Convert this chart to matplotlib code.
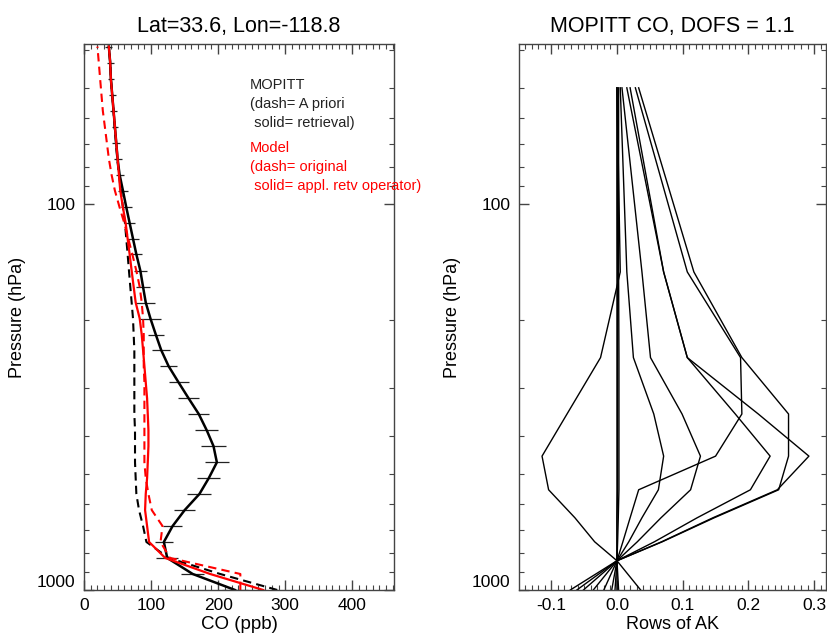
import matplotlib
matplotlib.use('Agg')
import matplotlib.pyplot as plt
from matplotlib.ticker import FixedLocator, MultipleLocator, NullFormatter

plt.rcParams['font.family'] = ['Liberation Sans', 'DejaVu Sans']

# ── Left panel: CO profiles on model levels (hPa) ─────────────────────────────
pressure = [1000, 909, 826, 751, 683, 621, 564, 513, 467, 424,
            386, 350, 319, 290, 263, 239, 218, 198, 180, 164,
            149, 135, 123, 112, 102, 92.3, 83.9, 76.3, 69.3, 63.0,
            57.3, 52.1, 47.4, 43.0, 39.1]

mopitt_retrieval = [225, 162, 124, 119, 132, 150, 172, 186, 198, 193,
                    183, 171, 156, 141, 126, 115, 107, 99, 92, 88,
                    84, 78, 73, 68, 63, 58, 53, 50, 48, 46,
                    44, 42, 40, 39, 37]
mopitt_error = [20, 17, 16, 13, 14, 16, 18, 17, 18, 19,
                17, 16, 16, 15, 13, 13, 12, 15, 14, 11,
                10, 9, 9, 8, 8, 7, 6, 6, 6, 5,
                5, 5, 5, 5, 5]
mopitt_apriori = [288, 203, 126, 93, 88, 82, 78, 77, 76, 76,
                  76, 75, 75, 75, 75, 75, 74, 73, 71, 69,
                  67, 65, 63, 61, 58, 55, 52, 49.5, 47.5, 45.5,
                  44, 42, 40, 39, 37]
model_original = [233, 233, 128, 114, 117, 101, 96, 92, 90, 90,
                  90, 90, 90, 90, 89, 89, 89, 88, 86, 83,
                  78, 72, 66, 60, 53, 46, 41, 37, 34, 31,
                  28, 26, 24, 22, 20]
model_ak = [267, 188, 121, 97, 94, 91, 92, 94, 95, 96,
            96, 95, 94, 92, 90, 88, 86, 83, 77, 74,
            71, 68, 65, 62, 58, 54, 52, 50, 48, 46,
            44, 42, 40, 39, 37]

# ── Right panel: rows of the averaging kernel ─────────────────────────────────
ak_pressure = [1000, 840, 750, 650, 550, 450, 350, 250, 150, 50]
ak_rows = [
    [0.036, 0.0, -0.034, -0.064, -0.104, -0.114, -0.076, -0.025, 0.005, 0.0],
    [0.0025, 0.0, 0.0, 0.0, 0.0, 0.0, 0.0, 0.0, 0.0, 0.0],
    [0.0, 0.0, 0.001, 0.002, 0.003, 0.003, 0.003, 0.003, 0.0025, 0.0025],
    [-0.003, 0.0, 0.0, 0.0, 0.001, 0.001, 0.001, 0.001, 0.001, 0.0],
    [-0.008, 0.0, 0.018, 0.038, 0.063, 0.071, 0.056, 0.025, 0.015, 0.005],
    [-0.036, 0.0, 0.031, 0.067, 0.112, 0.127, 0.099, 0.051, 0.038, 0.0076],
    [-0.02, 0.0, 0.009, 0.02, 0.033, 0.15, 0.19, 0.188, 0.107, 0.028],
    [-0.051, 0.0, 0.057, 0.122, 0.203, 0.233, 0.18, 0.107, 0.071, 0.015],
    [-0.071, 0.0, 0.069, 0.148, 0.246, 0.261, 0.261, 0.19, 0.117, 0.033],
    [-0.061, 0.0, 0.068, 0.146, 0.244, 0.292, 0.215, 0.107, 0.071, 0.02],
]

legend_black = ['MOPITT', '(dash= A priori', ' solid= retrieval)']
legend_red = ['Model', '(dash= original', ' solid= appl. retv operator)']

P_TOP, P_BOT = 38.5, 1000
DASH = (0, (4, 2.5))
FRAME = '#444444'


def style_axis(ax, xmajor, xminor):
    ax.set_yscale('log')
    ax.set_ylim(P_BOT, P_TOP)
    ax.yaxis.set_major_locator(FixedLocator([100, 1000]))
    ax.yaxis.set_minor_locator(FixedLocator([40, 50, 60, 70, 80, 90, 200, 300, 400,
                                             500, 600, 700, 800, 900]))
    ax.yaxis.set_major_formatter(plt.FuncFormatter(lambda v, _: f'{v:.0f}'))
    ax.yaxis.set_minor_formatter(NullFormatter())
    ax.xaxis.set_major_locator(MultipleLocator(xmajor))
    ax.xaxis.set_minor_locator(MultipleLocator(xminor))
    ax.tick_params(which='both', direction='in', top=True, right=True,
                   color=FRAME, labelsize=12.5, pad=6)
    ax.tick_params(which='major', length=7, width=1)
    ax.tick_params(which='minor', length=3.5, width=0.8)
    for s in ax.spines.values():
        s.set_color(FRAME)
        s.set_linewidth(1)
    ax.set_ylabel('Pressure (hPa)', fontsize=13, labelpad=8)
    # IDL puts the bottom label a little above the axis line
    for lab in ax.get_yticklabels():
        if lab.get_text() == '1000':
            lab.set_verticalalignment('bottom')


fig = plt.figure(figsize=(8.27, 6.35), dpi=100)
ax1 = fig.add_axes([0.1016, 0.0709, 0.3748, 0.8598])
ax2 = fig.add_axes([0.6276, 0.0709, 0.3712, 0.8598])

# left panel
ax1.errorbar(mopitt_retrieval, pressure, xerr=mopitt_error, fmt='none',
             ecolor='#222222', elinewidth=0.9, capsize=0)
ax1.plot(mopitt_retrieval, pressure, color='black', lw=1.8)
ax1.plot(mopitt_apriori, pressure, color='black', lw=1.5, linestyle=DASH)
ax1.plot(model_ak, pressure, color='red', lw=1.6)
ax1.plot(model_original, pressure, color='red', lw=1.5, linestyle=DASH)
ax1.set_xlim(0, 462)
style_axis(ax1, 100, 10)
ax1.set_xlabel('CO (ppb)', fontsize=13.5, labelpad=2)
ax1.set_title('Lat=33.6, Lon=-118.8', fontsize=15.5, pad=9)

y0, dy = 0.925, 0.035
for i, line in enumerate(legend_black):
    ax1.text(0.535, y0 - i * dy, line, transform=ax1.transAxes, fontsize=10.5,
             color='#222222', va='center', ha='left')
for i, line in enumerate(legend_red):
    ax1.text(0.535, y0 - 0.115 - i * dy, line, transform=ax1.transAxes,
             fontsize=10.5, color='red', va='center', ha='left')

# right panel
for row in ak_rows:
    ax2.plot(row, ak_pressure, color='black', lw=1.0)
ax2.set_xlim(-0.149, 0.318)
ax2.xaxis.set_major_formatter(plt.FuncFormatter(lambda v, _: f'{v:.1f}'))
style_axis(ax2, 0.1, 0.01)
ax2.set_xlabel('Rows of AK', fontsize=13, labelpad=2)
ax2.set_title('MOPITT CO, DOFS = 1.1', fontsize=15.5, pad=9)

fig.savefig('out.png', dpi=100)
